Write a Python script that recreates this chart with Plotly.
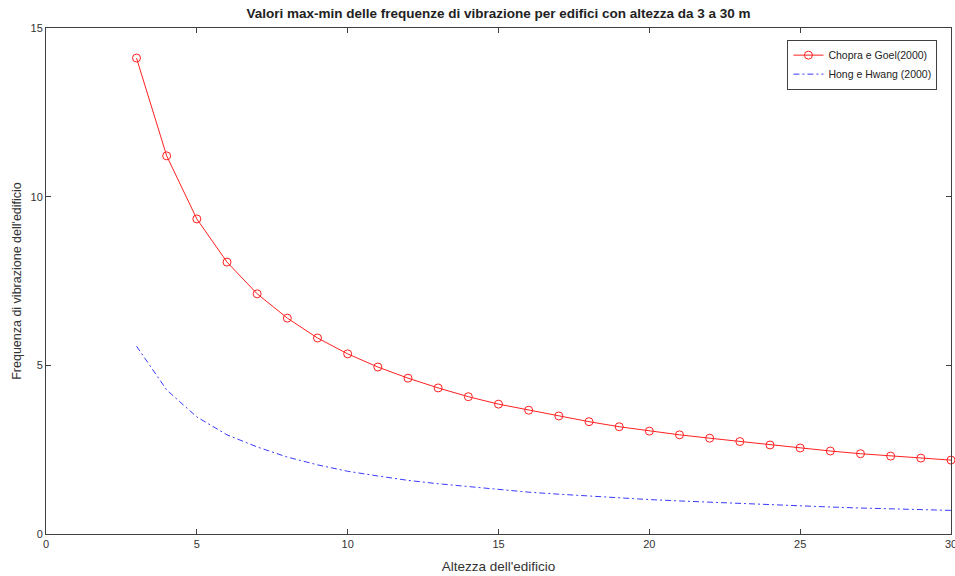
import plotly.graph_objects as go

heights = list(range(3, 31))
chopra_goel = [14.11, 11.21, 9.34, 8.06, 7.12, 6.40, 5.81, 5.34, 4.95, 4.62,
               4.33, 4.07, 3.85, 3.67, 3.50, 3.33, 3.18, 3.05, 2.94, 2.84,
               2.74, 2.64, 2.55, 2.46, 2.38, 2.31, 2.25, 2.19]
hong_hwang = [5.57, 4.27, 3.47, 2.94, 2.58, 2.28, 2.05, 1.86, 1.72, 1.59,
              1.49, 1.40, 1.31, 1.24, 1.18, 1.12, 1.07, 1.02, 0.98, 0.94,
              0.90, 0.86, 0.83, 0.80, 0.77, 0.75, 0.72, 0.70]
x_ticks = [0, 5, 10, 15, 20, 25, 30]
y_ticks = [0, 5, 10, 15]

axis_color = "#404040"
font_family = "Liberation Sans, Arial, sans-serif"

fig = go.Figure()
fig.add_trace(go.Scatter(
    x=heights, y=chopra_goel, mode="lines+markers", name="Chopra e Goel(2000)",
    line=dict(color="#ff2020", width=1),
    marker=dict(symbol="circle-open", size=8, color="#ff2020", line=dict(width=1)),
    cliponaxis=False,
))
fig.add_trace(go.Scatter(
    x=heights, y=hong_hwang, mode="lines", name="Hong e Hwang (2000)",
    line=dict(color="#3a3aff", width=1, dash="6px,3px,2px,3px"),
    cliponaxis=False,
))

axis_common = dict(
    showline=True, linecolor=axis_color, linewidth=1, mirror="ticks",
    ticks="inside", ticklen=5, tickcolor=axis_color, tickwidth=1,
    showgrid=False, zeroline=False, automargin=False,
    ticklabeloverflow="allow",
    tickfont=dict(family=font_family, size=11, color="#333333"),
)

fig.update_layout(
    width=955, height=576,
    margin=dict(l=46, r=4, t=28, b=42),
    paper_bgcolor="white", plot_bgcolor="white",
    title=dict(text="<b>Valori max-min delle frequenze di vibrazione per edifici con altezza da 3 a 30 m</b>",
               x=0.5, xref="paper", xanchor="center",
               yref="container", y=1 - 13 / 576, yanchor="middle",
               font=dict(family=font_family, size=13.5, color="#222222")),
    xaxis=dict(range=[0, 30], tickvals=x_ticks,
               title=dict(text="Altezza dell'edificio", standoff=12,
                          font=dict(family=font_family, size=13.5, color="#333333")),
               **axis_common),
    yaxis=dict(range=[0, 15], tickvals=y_ticks,
               title=dict(text="Frequenza di vibrazione dell'edificio", standoff=6,
                          font=dict(family=font_family, size=12.5, color="#333333")),
               **axis_common),
    legend=dict(x=0.985, y=0.977, xanchor="right", yanchor="top",
                bgcolor="white", bordercolor=axis_color, borderwidth=1,
                font=dict(family=font_family, size=10.5, color="#222222"),
                tracegroupgap=0, itemwidth=30),
    showlegend=True,
)

fig.write_html(
    "out.html",
    config={"displayModeBar": False},
    post_script="document.body.style.margin='0';document.body.style.overflow='hidden';",
)
